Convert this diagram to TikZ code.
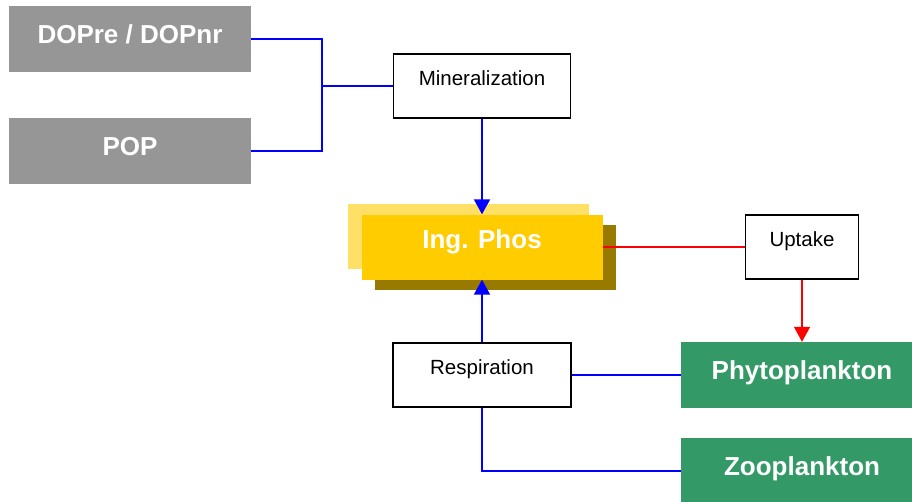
\documentclass[tikz,border=0pt]{standalone}
\usepackage{fontspec}
\setmainfont{Liberation Sans}
\usetikzlibrary{positioning, arrows.meta, shadows}
\definecolor{poolgrey}{RGB}{150,150,150}
\definecolor{planktongreen}{RGB}{51,153,102}
\definecolor{phosyellow}{RGB}{255,204,0}
\definecolor{phoslight}{RGB}{255,224,102}
\definecolor{phosdark}{RGB}{153,122,0}

\begin{document}
\begin{tikzpicture}
    [
        x=1pt, y=1pt, node distance=128pt and 320pt, on grid, >={Triangle[length=15pt, width=16pt]},
        pool_node/.style={rectangle, fill=poolgrey, text=white, font=\fontsize{26}{30}\selectfont\bfseries, minimum width=242pt, minimum height=66pt, text height=19pt, text depth=10.4pt},
        plankton_node/.style={pool_node, fill=planktongreen},
        phos_node/.style={pool_node, fill=phosyellow, minimum width=241pt, minimum height=65pt, text depth=15.4pt,
            general shadow={shadow xshift=-14pt, shadow yshift=11pt, fill=phoslight},
            general shadow={shadow xshift=13pt, shadow yshift=-10pt, fill=phosdark}},
        process_node/.style={rectangle, draw=black, fill=white, line width=1.5pt, font=\fontsize{20.5}{24}\selectfont, minimum height=64pt, text height=15pt, text depth=17pt},
        blue_line/.style={line width=2pt, draw=blue},
        red_line/.style={line width=1.5pt, draw=red, fill=red},
    ]
        \useasboundingbox (0,0) rectangle (912,-501) ;
        \clip (0,0) rectangle (912,-501) ;
        \node[phos_node] (phos) at (482,-247) {Ing. Phos} ;
        \node[process_node, minimum width=177pt] (mineral) [above=161pt of phos] {Mineralization} ;
        \node[process_node, minimum width=178pt] (resp) [below=128pt of phos] {Respiration} ;
        \node[process_node, minimum width=113pt] (uptake) [right=320pt of phos] {Uptake} ;
        \node[plankton_node] (phyto) [below=128pt of uptake] {Phytoplankton} ;
        \node[plankton_node] (zoo) [below=96pt of phyto] {Zooplankton} ;
        \node[pool_node] (dop) at (130,-39) {DOPre / DOPnr} ;
        \node[pool_node] (pop) [below=112pt of dop] {POP} ;
        \coordinate[left=160pt of mineral] (fork) ;
        \draw[blue_line] (dop.east) -| (fork) |- (pop.east) ;
        \draw[blue_line] (fork) -- (mineral) ;
        \draw[->, blue_line] (mineral) -- (phos) ;
        \draw[->, blue_line] (resp) -- (phos) ;
        \draw[blue_line] (resp) -- (phyto) ;
        \draw[blue_line] (resp) |- (zoo) ;
        \draw[red_line] (phos.east) -- (uptake.west) ;
        \draw[->, red_line] (uptake) -- (phyto) ;
    \end{tikzpicture}
\end{document}
